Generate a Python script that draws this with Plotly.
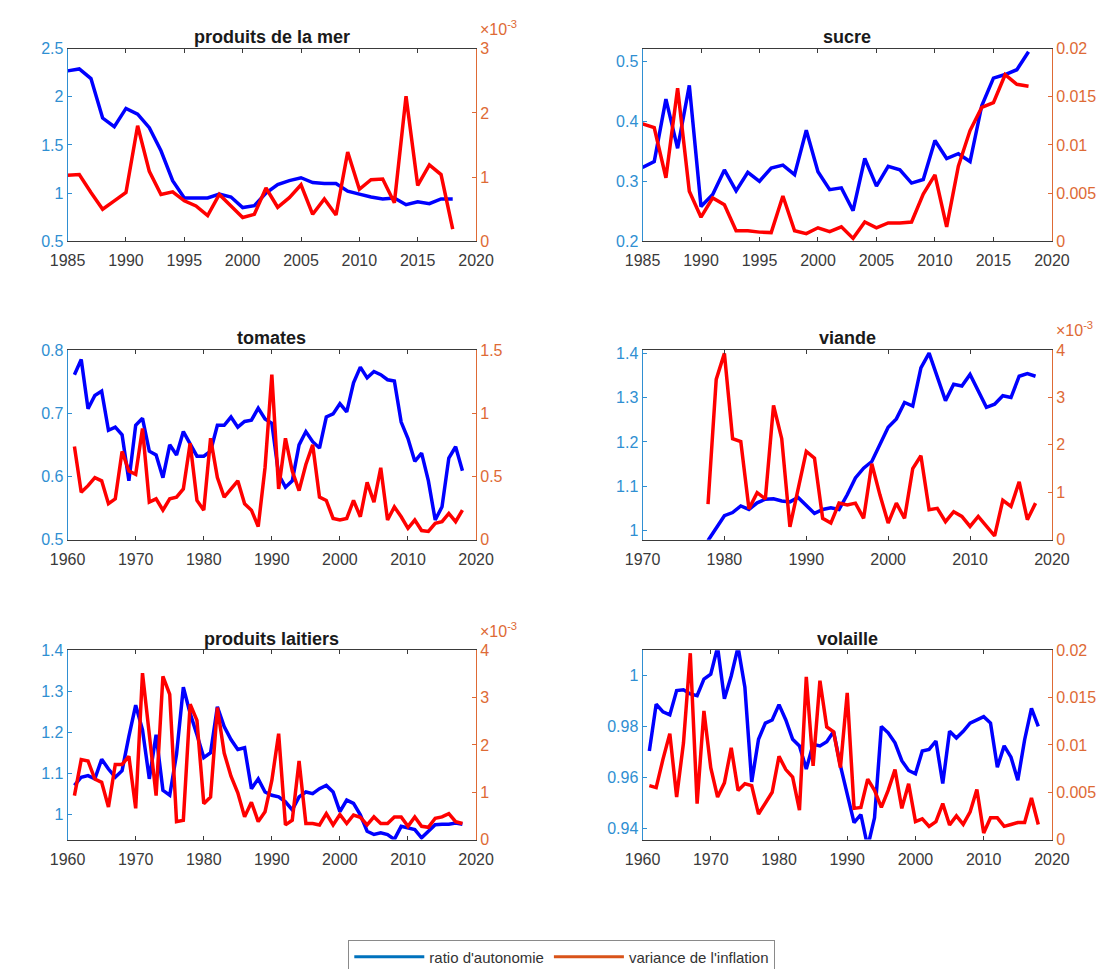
import numpy as np
import plotly.graph_objects as go

# ---------------- data ----------------
mer_years = list(range(1985, 2019))
mer_ratio = [2.27, 2.29, 2.19, 1.78, 1.69, 1.88, 1.82, 1.68, 1.44, 1.13, 0.95, 0.95, 0.95, 0.99, 0.96, 0.85, 0.87,
             1.00, 1.09, 1.13, 1.16, 1.11, 1.10, 1.10, 1.02, 0.99, 0.96, 0.94, 0.95, 0.88, 0.91, 0.89, 0.94, 0.94]
mer_var_e3 = [1.03, 1.04, 0.76, 0.50, 0.63, 0.76, 1.80, 1.09, 0.73, 0.77, 0.63, 0.55, 0.40, 0.73, 0.55, 0.37, 0.42,
              0.83, 0.53, 0.68, 0.88, 0.42, 0.66, 0.41, 1.39, 0.81, 0.96, 0.97, 0.60, 2.26, 0.87, 1.19, 1.04, 0.19]

sucre_years = list(range(1985, 2019))
sucre_ratio = [0.323, 0.333, 0.437, 0.355, 0.460, 0.258, 0.278, 0.319, 0.284, 0.315, 0.300, 0.322, 0.327, 0.311,
               0.385, 0.316, 0.286, 0.289, 0.251, 0.338, 0.292, 0.325, 0.319, 0.297, 0.303, 0.368, 0.338, 0.346,
               0.333, 0.426, 0.472, 0.478, 0.486, 0.516]
sucre_var_e3 = [12.2, 11.8, 6.6, 15.9, 5.2, 2.5, 4.5, 3.8, 1.1, 1.1, 0.95, 0.9, 4.7, 1.1, 0.8, 1.4, 1.0, 1.5, 0.3,
                2.0, 1.4, 1.9, 1.9, 2.0, 4.9, 6.9, 1.5, 7.8, 11.5, 13.9, 14.4, 17.3, 16.3, 16.1]

tom_years = list(range(1961, 2019))
tom_ratio = [0.761, 0.785, 0.707, 0.728, 0.735, 0.673, 0.678, 0.666, 0.593, 0.681,
             0.692, 0.640, 0.634, 0.598, 0.650, 0.634, 0.671, 0.650, 0.632, 0.632,
             0.640, 0.681, 0.681, 0.694, 0.678, 0.687, 0.689, 0.708, 0.691, 0.684,
             0.603, 0.583, 0.593, 0.650, 0.671, 0.655, 0.645, 0.694, 0.699, 0.715,
             0.702, 0.748, 0.773, 0.756, 0.766, 0.761, 0.753, 0.751, 0.686, 0.660,
             0.624, 0.637, 0.593, 0.531, 0.552, 0.629, 0.647, 0.609]
tom_var = [0.737, 0.375, 0.427, 0.491, 0.465, 0.284, 0.323, 0.698, 0.543, 0.517,
           0.879, 0.297, 0.323, 0.233, 0.323, 0.336, 0.401, 0.763, 0.310, 0.233,
           0.802, 0.491, 0.336, 0.401, 0.465, 0.284, 0.233, 0.103, 0.569, 1.306,
           0.401, 0.802, 0.543, 0.388, 0.595, 0.750, 0.336, 0.310, 0.168, 0.155,
           0.168, 0.310, 0.181, 0.453, 0.297, 0.569, 0.155, 0.259, 0.181, 0.090,
           0.155, 0.072, 0.065, 0.129, 0.142, 0.207, 0.142, 0.233]

viande_years = list(range(1978, 2019))
viande_ratio = [0.978, 1.007, 1.034, 1.041, 1.056, 1.048, 1.063, 1.071, 1.072, 1.067,
                1.065, 1.075, 1.056, 1.039, 1.048, 1.052, 1.048, 1.081, 1.119, 1.141,
                1.156, 1.193, 1.233, 1.252, 1.289, 1.281, 1.367, 1.400, 1.348, 1.293,
                1.330, 1.326, 1.352, 1.315, 1.278, 1.285, 1.304, 1.300, 1.348, 1.354,
                1.348]
viande_var_e3 = [0.75, 3.38, 3.93, 2.13, 2.07, 0.65, 0.99, 0.86, 2.83, 2.13,
                 0.27, 1.06, 1.86, 1.72, 0.45, 0.35, 0.77, 0.73, 0.77, 0.45,
                 1.60, 0.94, 0.35, 0.77, 0.45, 1.50, 1.77, 0.63, 0.66, 0.38,
                 0.59, 0.49, 0.28, 0.49, 0.28, 0.08, 0.83, 0.70, 1.22, 0.42,
                 0.77]

lait_years = list(range(1961, 2019))
lait_ratio = [1.070, 1.090, 1.094, 1.086, 1.134, 1.110, 1.090, 1.106, 1.190, 1.266,
              1.206, 1.086, 1.194, 1.058, 1.046, 1.146, 1.310, 1.246, 1.194, 1.138,
              1.150, 1.262, 1.214, 1.182, 1.158, 1.162, 1.062, 1.086, 1.054, 1.046,
              1.042, 1.030, 1.010, 1.042, 1.054, 1.050, 1.062, 1.070, 1.054, 1.006,
              1.034, 1.026, 0.998, 0.958, 0.950, 0.954, 0.950, 0.938, 0.970, 0.966,
              0.962, 0.942, 0.958, 0.974, 0.975, 0.975, 0.978, 0.975]
lait_var_e3 = [0.93, 1.69, 1.66, 1.28, 1.21, 0.69, 1.59, 1.59, 1.76, 0.66,
               3.52, 2.20, 0.93, 3.45, 3.07, 0.38, 0.41, 2.86, 2.52, 0.76,
               0.90, 2.79, 1.83, 1.34, 0.99, 0.48, 0.79, 0.38, 0.59, 1.25,
               2.24, 0.31, 0.41, 1.66, 0.34, 0.34, 0.31, 0.55, 0.31, 0.53,
               0.34, 0.52, 0.47, 0.31, 0.48, 0.34, 0.34, 0.48, 0.48, 0.28,
               0.48, 0.28, 0.26, 0.45, 0.48, 0.55, 0.38, 0.34]

vol_years = list(range(1961, 2019))
vol_ratio = [0.9704, 0.9887, 0.9857, 0.9845, 0.9940, 0.9943, 0.9927, 0.9920, 0.9985, 1.0004,
             1.0110, 0.9908, 0.9997, 1.0110, 0.9953, 0.9583, 0.9750, 0.9813, 0.9825, 0.9885,
             0.9825, 0.9750, 0.9724, 0.9634, 0.9730, 0.9724, 0.9740, 0.9780, 0.9647, 0.9532,
             0.9424, 0.9456, 0.9330, 0.9443, 0.9800, 0.9775, 0.9736, 0.9666, 0.9628, 0.9615,
             0.9704, 0.9710, 0.9743, 0.9577, 0.9781, 0.9755, 0.9781, 0.9813, 0.9825, 0.9838,
             0.9813, 0.9641, 0.9724, 0.9680, 0.9590, 0.9748, 0.9870, 0.9800]
vol_var_e3 = [5.7, 5.5, 8.5, 11.2, 4.5, 10.2, 19.7, 3.8, 13.6, 7.6,
              4.5, 6.0, 9.7, 5.2, 5.9, 5.7, 2.7, 3.8, 5.0, 8.8,
              7.4, 6.6, 3.1, 17.2, 7.8, 16.8, 11.9, 11.4, 7.6, 15.5,
              3.3, 3.4, 6.4, 5.2, 3.4, 5.2, 7.4, 3.3, 5.9, 1.9,
              2.2, 1.4, 1.9, 3.8, 1.55, 2.5, 1.6, 2.9, 5.3, 0.7,
              2.3, 2.3, 1.4, 1.6, 1.8, 1.8, 4.4, 1.6]

legend_labels = ["ratio d'autonomie", "variance de l'inflation"]

# ---------------- style ----------------
W, H = 1120, 969
FONT = "Liberation Sans, Arial, Helvetica, sans-serif"
BLUE_LINE = "#0000FF"
RED_LINE = "#FF0000"
LEFT_C = "#2F8FD2"
RIGHT_C = "#DE6A35"
AX_C = "#3a3a3a"
TICK_FS = 16

COLS = [(43, 465), (637, 1060)]
ROWS = [(33.3, 229.3), (340, 533), (645.7, 838.3)]

e3 = 1e-3
panels = [
    dict(title="produits de la mer", years=mer_years, ratio=mer_ratio,
         var=(np.array(mer_var_e3) * e3).tolist(), xr=[1985, 2020], xt=list(range(1985, 2021, 5)),
         yl=[0.5, 2.5], ylt=[0.5, 1, 1.5, 2, 2.5],
         yr=[0, 3e-3], yrt=[0, 1e-3, 2e-3, 3e-3], yrtt=["0", "1", "2", "3"], exp=True, r=0, c=0),
    dict(title="sucre", years=sucre_years, ratio=sucre_ratio,
         var=(np.array(sucre_var_e3) * e3).tolist(), xr=[1985, 2020], xt=list(range(1985, 2021, 5)),
         yl=[0.2, 0.521], ylt=[0.2, 0.3, 0.4, 0.5],
         yr=[0, 0.02], yrt=[0, 0.005, 0.01, 0.015, 0.02], yrtt=["0", "0.005", "0.01", "0.015", "0.02"],
         exp=False, r=0, c=1),
    dict(title="tomates", years=tom_years, ratio=tom_ratio, var=tom_var,
         xr=[1960, 2020], xt=list(range(1960, 2021, 10)),
         yl=[0.5, 0.8], ylt=[0.5, 0.6, 0.7, 0.8],
         yr=[0, 1.5], yrt=[0, 0.5, 1, 1.5], yrtt=["0", "0.5", "1", "1.5"], exp=False, r=1, c=0),
    dict(title="viande", years=viande_years, ratio=viande_ratio,
         var=(np.array(viande_var_e3) * e3).tolist(), xr=[1970, 2020], xt=list(range(1970, 2021, 10)),
         yl=[0.98, 1.407], ylt=[1, 1.1, 1.2, 1.3, 1.4],
         yr=[0, 4e-3], yrt=[0, 1e-3, 2e-3, 3e-3, 4e-3], yrtt=["0", "1", "2", "3", "4"], exp=True, r=1, c=1),
    dict(title="produits laitiers", years=lait_years, ratio=lait_ratio,
         var=(np.array(lait_var_e3) * e3).tolist(), xr=[1960, 2020], xt=list(range(1960, 2021, 10)),
         yl=[0.9376, 1.4], ylt=[1, 1.1, 1.2, 1.3, 1.4],
         yr=[0, 4e-3], yrt=[0, 1e-3, 2e-3, 3e-3, 4e-3], yrtt=["0", "1", "2", "3", "4"], exp=True, r=2, c=0),
    dict(title="volaille", years=vol_years, ratio=vol_ratio,
         var=(np.array(vol_var_e3) * e3).tolist(), xr=[1960, 2020], xt=list(range(1960, 2021, 10)),
         yl=[0.9358, 1.0097], ylt=[0.94, 0.96, 0.98, 1],
         yr=[0, 0.02], yrt=[0, 0.005, 0.01, 0.015, 0.02], yrtt=["0", "0.005", "0.01", "0.015", "0.02"],
         exp=False, r=2, c=1),
]

fig = go.Figure()
layout = dict(width=W, height=H, autosize=False, margin=dict(l=0, r=0, t=0, b=0),
              paper_bgcolor="white", plot_bgcolor="white",
              font=dict(family=FONT, size=TICK_FS, color=AX_C))
annotations = []

for i, p in enumerate(panels):
    xn = i + 1
    yl_n = 2 * i + 1
    yr_n = 2 * i + 2
    x0, x1 = COLS[p["c"]]
    t0, t1 = ROWS[p["r"]]
    xdom = [x0 / W, x1 / W]
    ydom = [1 - t1 / H, 1 - t0 / H]
    xs = "x" if xn == 1 else f"x{xn}"
    yls = f"y{yl_n}" if yl_n > 1 else "y"
    yrs = f"y{yr_n}"

    fig.add_trace(go.Scatter(x=p["years"], y=p["ratio"], xaxis=xs, yaxis=yls, mode="lines",
                             line=dict(color=BLUE_LINE, width=3.5), showlegend=False, hoverinfo="x+y"))
    fig.add_trace(go.Scatter(x=p["years"], y=p["var"], xaxis=xs, yaxis=yrs, mode="lines",
                             line=dict(color=RED_LINE, width=3.5), showlegend=False, hoverinfo="x+y"))

    layout["xaxis" if xn == 1 else f"xaxis{xn}"] = dict(
        domain=xdom, range=p["xr"], tickmode="array", tickvals=p["xt"], anchor=yls,
        showline=True, linecolor=AX_C, linewidth=1, mirror="ticks", ticks="inside", ticklen=4,
        tickcolor=AX_C, showgrid=False, zeroline=False, tickfont=dict(size=TICK_FS, color=AX_C),
        ticklabelstandoff=5, fixedrange=True)
    layout["yaxis" if yl_n == 1 else f"yaxis{yl_n}"] = dict(
        domain=ydom, range=p["yl"], tickmode="array", tickvals=p["ylt"], anchor=xs, side="left",
        showline=True, linecolor=LEFT_C, linewidth=1, ticks="inside", ticklen=4, tickcolor=LEFT_C,
        showgrid=False, zeroline=False, tickfont=dict(size=TICK_FS, color=LEFT_C), fixedrange=True)
    layout[f"yaxis{yr_n}"] = dict(
        domain=ydom, range=p["yr"], tickmode="array", tickvals=p["yrt"], ticktext=p["yrtt"],
        anchor=xs, overlaying=yls, side="right",
        showline=True, linecolor=RIGHT_C, linewidth=1, ticks="inside", ticklen=4, tickcolor=RIGHT_C,
        showgrid=False, zeroline=False, tickfont=dict(size=TICK_FS, color=RIGHT_C), fixedrange=True)

    annotations.append(dict(text=f"<b>{p['title']}</b>", xref="paper", yref="paper",
                            x=(x0 + x1) / 2 / W, y=1 - (t0 - 12) / H, xanchor="center", yanchor="middle",
                            showarrow=False, font=dict(family=FONT, size=18, color="#1a1a1a")))
    if p["exp"]:
        annotations.append(dict(text="×10<sup>-3</sup>", xref="paper", yref="paper",
                                x=(x1 + 2) / W, y=1 - (t0 - 9) / H, xanchor="left", yanchor="bottom",
                                showarrow=False, font=dict(family=FONT, size=TICK_FS, color=RIGHT_C)))

# legend entries
fig.add_trace(go.Scatter(x=[None], y=[None], mode="lines", name=legend_labels[0],
                         line=dict(color="#0072BD", width=3), xaxis="x", yaxis="y"))
fig.add_trace(go.Scatter(x=[None], y=[None], mode="lines", name=legend_labels[1],
                         line=dict(color="#D95319", width=3), xaxis="x", yaxis="y"))

layout["annotations"] = annotations
layout["showlegend"] = True
layout["legend"] = dict(orientation="h", x=333 / W, y=1 - 940 / H, xanchor="left", yanchor="top",
                        bordercolor="#8a8a8a", borderwidth=1, bgcolor="white", itemwidth=70,
                        font=dict(family=FONT, size=15, color="#333333"), tracegroupgap=0)
fig.update_layout(**layout)

fig.write_html("out.html")
